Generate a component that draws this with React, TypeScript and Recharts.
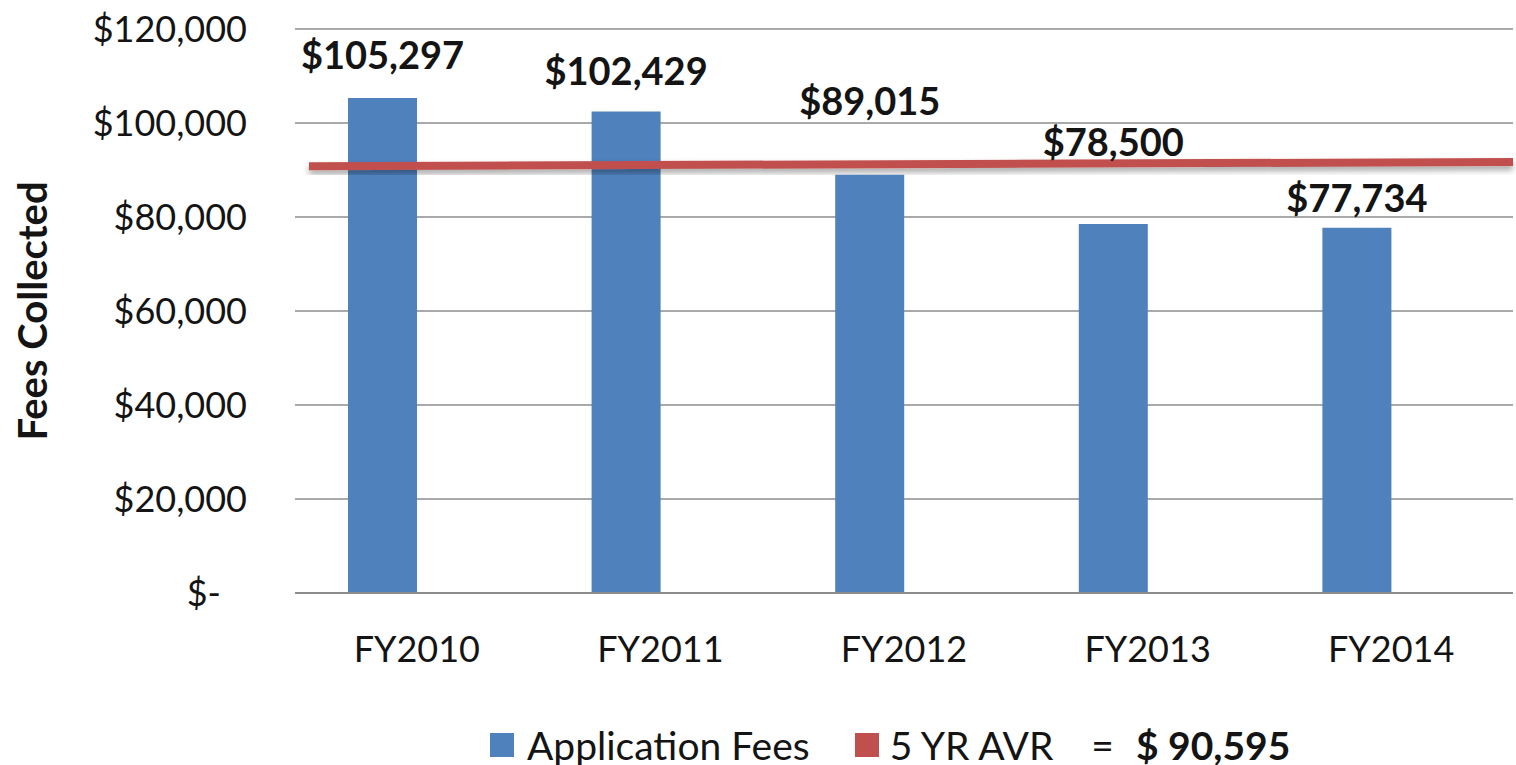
import React from 'react';
import { BarChart, Bar, XAxis, YAxis, CartesianGrid, ReferenceLine, LabelList } from 'recharts';

const years = ['FY2010', 'FY2011', 'FY2012', 'FY2013', 'FY2014'];
const applicationFees = [105297, 102429, 89015, 78500, 77734];
const yTicks = [0, 20000, 40000, 60000, 80000, 100000, 120000];
const fiveYearAverage = 90595;
// the average line in the source was drawn by hand and rises a little to the right
const avgLineEnds = [90800, 91700];
// how far each value label sits above its bar
const labelLift = [43, 41, 74, 82, 30];

const data = years.map((year, i) => ({ year, fees: applicationFees[i] }));

const FONT = 'Lato, "Open Sans", sans-serif';
const TEXT = '#141414';
const BLUE = '#4F81BD';
const RED = '#C0504D';

const money = (v: number) => '$' + v.toLocaleString('en-US');

const YTick = ({ x, y, payload }: any) => (
  <text
    x={payload.value === 0 ? x - 26 : x}
    y={y}
    dy={13}
    textAnchor="end"
    fontFamily={FONT}
    fontSize={36}
    fill={TEXT}
  >
    {payload.value === 0 ? '$-' : money(payload.value)}
  </text>
);

const FeeLabel = (props: any) => {
  const { x, y, width, value, index } = props;
  return (
    <text
      x={x + width / 2}
      y={y - labelLift[index] + 14}
      textAnchor="middle"
      fontFamily={FONT}
      fontWeight={700}
      fontSize={38}
      fill={TEXT}
    >
      {money(value)}
    </text>
  );
};

const AxisTitle = ({ viewBox }: any) => {
  const cx = 32;
  const cy = viewBox.y + viewBox.height / 2;
  return (
    <text
      x={cx}
      y={cy}
      transform={`rotate(-90 ${cx} ${cy})`}
      textAnchor="middle"
      dominantBaseline="central"
      fontFamily={FONT}
      fontWeight={700}
      fontSize={40}
      fill={TEXT}
    >
      Fees Collected
    </text>
  );
};

const Swatch = ({ color }: { color: string }) => (
  <span style={{ display: 'inline-block', width: 24, height: 24, background: color }} />
);

export default function App() {
  return (
    <div style={{ position: 'relative', width: 1516, height: 765, background: '#fff' }}>
      <style>{'body{margin:0}'}</style>
      <BarChart
        width={1516}
        height={765}
        data={data}
        margin={{ top: 29, right: 3, bottom: 0, left: 0 }}
        barGap={0}
        style={{ fontFamily: FONT }}
      >
        <defs>
          <filter id="avgShadow" x="-5%" y="-200%" width="110%" height="500%">
            <feDropShadow dx="0" dy="4" stdDeviation="3" floodColor="#000" floodOpacity="0.35" />
          </filter>
        </defs>
        <CartesianGrid vertical={false} stroke="#8c8c8c" strokeWidth={1.5} />
        <XAxis
          dataKey="year"
          interval={0}
          tickLine={false}
          tickSize={0}
          tickMargin={43}
          height={172}
          axisLine={{ stroke: '#8c8c8c', strokeWidth: 2 }}
          tick={{ fontFamily: FONT, fontSize: 36, fill: TEXT }}
        />
        {/* hidden axis spanning the whole plot width, 0 at the left edge and 4 at the right */}
        <XAxis xAxisId="span" type="number" domain={[0, 4]} allowDataOverflow hide />
        <YAxis
          width={295}
          domain={[0, 120000]}
          ticks={yTicks}
          axisLine={false}
          tickLine={false}
          tickSize={0}
          tickMargin={48}
          tick={<YTick />}
          label={<AxisTitle />}
        />
        <Bar dataKey="fees" name="Application Fees" fill={BLUE} barSize={69} isAnimationActive={false}>
          <LabelList dataKey="fees" content={<FeeLabel />} />
        </Bar>
        <Bar dataKey="avgBar" name="5 YR AVR" fill={RED} barSize={69} isAnimationActive={false} />
        <ReferenceLine
          xAxisId="span"
          segment={[
            { x: 0.046, y: avgLineEnds[0] },
            { x: 4, y: avgLineEnds[1] },
          ]}
          ifOverflow="visible"
          shape={(p: any) => (
            <line
              x1={p.x1}
              y1={p.y1}
              x2={p.x2}
              y2={p.y2}
              stroke={RED}
              strokeWidth={8}
              filter="url(#avgShadow)"
            />
          )}
        />
      </BarChart>
      <div
        style={{
          position: 'absolute',
          left: 490,
          top: 721,
          display: 'flex',
          alignItems: 'center',
          fontFamily: FONT,
          fontSize: 39,
          color: TEXT,
          lineHeight: '48px',
          whiteSpace: 'nowrap',
        }}
      >
        <Swatch color={BLUE} />
        <span style={{ marginLeft: 13 }}>Application Fees</span>
        <span style={{ marginLeft: 45, display: 'flex' }}>
          <Swatch color={RED} />
        </span>
        <span style={{ marginLeft: 11 }}>5 YR AVR</span>
        <span style={{ marginLeft: 38 }}>=</span>
        <span style={{ marginLeft: 22, fontWeight: 700 }}>$ {fiveYearAverage.toLocaleString('en-US')}</span>
      </div>
    </div>
  );
}
